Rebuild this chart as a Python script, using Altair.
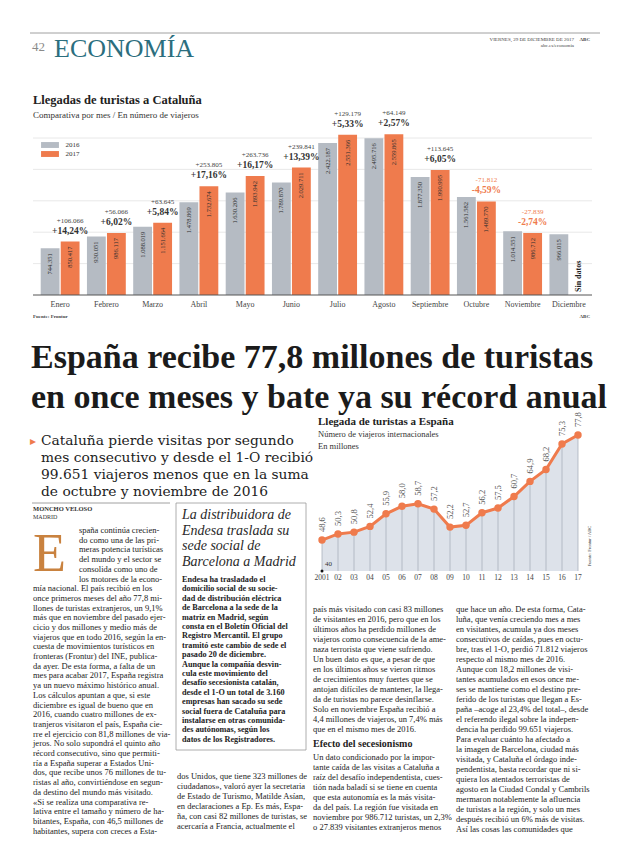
import altair as alt
import pandas as pd

# ---------------- data (read from the page) ----------------
MONTHS = ["Enero", "Febrero", "Marzo", "Abril", "Mayo", "Junio", "Julio",
          "Agosto", "Septiembre", "Octubre", "Noviembre", "Diciembre"]
V2016 = [744351, 930051, 1088019, 1478869, 1630206, 1789870, 2422187,
         2495716, 1877350, 1561582, 1014551, 966015]
V2017 = [850417, 986117, 1151664, 1732674, 1893942, 2029711, 2551366,
         2559865, 1990995, 1489770, 986712, None]
DIFF = ["+106.066", "+56.066", "+63.645", "+253.805", "+263.736", "+239.841",
        "+129.179", "+64.149", "+113.645", "-71.812", "-27.839"]
PCT = ["+14,24%", "+6,02%", "+5,84%", "+17,16%", "+16,17%", "+13,39%",
       "+5,33%", "+2,57%", "+6,05%", "-4,59%", "-2,74%"]
GRID = [500000, 1000000, 1500000, 2000000, 2500000]

YEARS = [2001, 2002, 2003, 2004, 2005, 2006, 2007, 2008, 2009, 2010, 2011,
         2012, 2013, 2014, 2015, 2016, 2017]
YEAR_LABELS = ["2001", "02", "03", "04", "05", "06", "07", "08", "09", "10",
               "11", "12", "13", "14", "15", "16", "17"]
ARRIVALS = [48.6, 50.3, 50.8, 52.4, 55.9, 58.0, 58.7, 57.2, 52.2, 52.7, 56.2,
            57.5, 60.7, 64.9, 68.2, 75.3, 77.8]

# ---------------- page texts ----------------
HEADLINE = ["España recibe 77,8 millones de turistas",
            "en once meses y bate ya su récord anual"]
SUBHEAD = ["Cataluña pierde visitas por segundo",
           "mes consecutivo y desde el 1-O recibió",
           "99.651 viajeros menos que en la suma",
           "de octubre y noviembre de 2016"]
COL1_TOP = ["spaña continúa crecien-", "do como una de las pri-",
            "meras potencia turísticas", "del mundo y el sector se",
            "consolida como uno de", "los motores de la econo-"]
COL1 = ["mía nacional. El país recibió en los",
        "once primeros meses del año 77,8 mi-",
        "llones de turistas extranjeros, un 9,1%",
        "más que en noviembre del pasado ejer-",
        "cicio y dos millones y medio más de",
        "viajeros que en todo 2016, según la en-",
        "cuesta de movimientos turísticos en",
        "fronteras (Frontur) del INE, publica-",
        "da ayer. De esta forma, a falta de un",
        "mes para acabar 2017, España registra",
        "ya un nuevo máximo histórico anual.",
        "\u00a0\u00a0\u00a0Los cálculos apuntan a que, si este",
        "diciembre es igual de bueno que en",
        "2016, cuando cuatro millones de ex-",
        "tranjeros visitaron el país, España cie-",
        "rre el ejercicio con 81,8 millones de via-",
        "jeros. No solo supondrá el quinto año",
        "récord consecutivo, sino que permiti-",
        "ría a España superar a Estados Uni-",
        "dos, que recibe unos 76 millones de tu-",
        "ristas al año, convirtiéndose en segun-",
        "da destino del mundo más visitado.",
        "\u00a0\u00a0\u00a0«Si se realiza una comparativa re-",
        "lativa entre el tamaño y número de ha-",
        "bitantes, España, con 46,5 millones de",
        "habitantes, supera con creces a Esta-"]
SIDE_TITLE = ["La distribuidora de", "Endesa traslada su",
              "sede social de", "Barcelona a Madrid"]
SIDE_BODY = ["Endesa ha trasladado el", "domicilio social de su socie-",
             "dad de distribución eléctrica", "de Barcelona a la sede de la",
             "matriz en Madrid, según", "consta en el Boletín Oficial del",
             "Registro Mercantil. El grupo", "tramitó este cambio de sede el",
             "pasado 20 de diciembre.", "Aunque la compañía desvin-",
             "cula este movimiento del", "desafío secesionista catalán,",
             "desde el 1-O un total de 3.160", "empresas han sacado su sede",
             "social fuera de Cataluña para", "instalarse en otras comunida-",
             "des autónomas, según los", "datos de los Registradores."]
COL2 = ["dos Unidos, que tiene 323 millones de",
        "ciudadanos», valoró ayer la secretaria",
        "de Estado de Turismo, Matilde Asían,",
        "en declaraciones a Ep. Es más, Espa-",
        "ña, con casi 82 millones de turistas, se",
        "acercaría a Francia, actualmente el"]
COL3A = ["país más visitado con casi 83 millones",
         "de visitantes en 2016, pero que en los",
         "últimos años ha perdido millones de",
         "viajeros como consecuencia de la ame-",
         "naza terrorista que viene sufriendo.",
         "\u00a0\u00a0\u00a0Un buen dato es que, a pesar de que",
         "en los últimos años se vieron ritmos",
         "de crecimientos muy fuertes que se",
         "antojan difíciles de mantener, la llega-",
         "da de turistas no parece desinflarse.",
         "Solo en noviembre España recibió a",
         "4,4 millones de viajeros, un 7,4% más",
         "que en el mismo mes de 2016."]
COL3_HEAD = ["Efecto del secesionismo"]
COL3B = ["Un dato condicionado por la impor-",
         "tante caída de las visitas a Cataluña a",
         "raíz del desafío independentista, cues-",
         "tión nada baladí si se tiene en cuenta",
         "que esta autonomía es la más visita-",
         "da del país. La región fue visitada en",
         "noviembre por 986.712 turistas, un 2,3%",
         "o 27.839 visitantes extranjeros menos"]
COL4 = ["que hace un año. De esta forma, Cata-",
        "luña, que venía creciendo mes a mes",
        "en visitantes, acumula ya dos meses",
        "consecutivos de caídas, pues en octu-",
        "bre, tras el 1-O, perdió 71.812 viajeros",
        "respecto al mismo mes de 2016.",
        "\u00a0\u00a0\u00a0Aunque con 18,2 millones de visi-",
        "tantes acumulados en esos once me-",
        "ses se mantiene como el destino pre-",
        "ferido de los turistas que llegan a Es-",
        "paña –acoge al 23,4% del total–, desde",
        "el referendo ilegal sobre la indepen-",
        "dencia ha perdido 99.651 viajeros.",
        "\u00a0\u00a0\u00a0Para evaluar cuánto ha afectado a",
        "la imagen de Barcelona, ciudad más",
        "visitada, y Cataluña el órdago inde-",
        "pendentista, basta recordar que ni si-",
        "quiera los atentados terroristas de",
        "agosto en la Ciudad Condal y Cambrils",
        "mermaron notablemente la afluencia",
        "de turistas a la región, y solo un mes",
        "después recibió un 6% más de visitas.",
        "\u00a0\u00a0\u00a0Así las cosas las comunidades que"]

# ---------------- style ----------------
SERIF = "Liberation Serif"
SERIF_WIDE = "DejaVu Serif"
INK = "#222222"
GRAY_BAR = "#b5bbc3"
ORANGE = "#ef7b4d"
TEAL = "#2b6e7e"
AREA = "#dde2ea"
W, H = 604, 830


def px(v):
    """page pixel -> canvas pixel (page has an 8px margin)"""
    return v - 8


def block(lines, x, y, size, lh=None, weight="normal", style="normal",
          color=INK, align="left", angle=0, font=SERIF, baseline="alphabetic"):
    df = pd.DataFrame({"t": ["\n".join(lines)]})
    return alt.Chart(df).mark_text(
        align=align, baseline=baseline, font=font, fontSize=size,
        fontWeight=weight, fontStyle=style, color=color, lineBreak="\n",
        lineHeight=lh if lh else size * 1.2, angle=angle
    ).encode(x=alt.value(px(x)), y=alt.value(px(y)), text="t:N")


one = pd.DataFrame({"k": [0]})


def hrule(x1, x2, y, color="#9a9a9a", w=1.0):
    return alt.Chart(one).mark_rule(color=color, strokeWidth=w).encode(
        x=alt.value(px(x1)), x2=alt.value(px(x2)), y=alt.value(px(y)))


# ---------------- header ----------------
header = [
    hrule(30, 600, 33, "#a0a0a0", 1),
    block(["42"], 32, 51, 13, color="#8a8a8a"),
    block(["ECONOMÍA"], 54, 57, 26, color=TEAL),
    block(["VIERNES, 29 DE DICIEMBRE DE 2017"], 574, 41, 5, align="right", color="#444"),
    block(["ABC"], 590, 41, 5, align="right", weight="bold", color="#444"),
    block(["abc.es/economia"], 574, 47, 5, align="right", color="#444"),
]

# ---------------- bar chart (Cataluña) ----------------
rows = []
for m, a, b in zip(MONTHS, V2016, V2017):
    rows.append({"month": m, "year": "2016", "value": a})
    if b is not None:
        rows.append({"month": m, "year": "2017", "value": b})
bars_df = pd.DataFrame(rows)
bars_df["label"] = [f"{int(v):,}".replace(",", ".") for v in bars_df["value"]]

ann_df = pd.DataFrame({"month": MONTHS[:11], "year": "2017",
                       "value": V2017[:11], "diff": DIFF, "pct": PCT})
ann_df["neg"] = ann_df["diff"].str.startswith("-")

xs = alt.Scale(domain=MONTHS, range=[px(37), px(592)],
               paddingInner=0.16, paddingOuter=0.08)
xos = alt.Scale(domain=["2016", "2017"], paddingInner=0.06)
ys = alt.Scale(domain=[0, 2500000], range=[px(295), px(138)], nice=False)

BX = alt.X("month:N", scale=xs, axis=None, sort=MONTHS)
BXO = alt.XOffset("year:N", scale=xos)
BY = alt.Y("value:Q", scale=ys, axis=None)

grid = alt.Chart(pd.DataFrame({"value": GRID})).mark_rule(
    color="#e2e2e2", strokeWidth=0.8).encode(
    y=BY, x=alt.value(px(33)), x2=alt.value(px(592)))
base_line = alt.Chart(pd.DataFrame({"value": [0]})).mark_rule(
    color="#555555", strokeWidth=1).encode(
    y=BY, x=alt.value(px(33)), x2=alt.value(px(592)))
bars = alt.Chart(bars_df).mark_bar().encode(
    x=BX, xOffset=BXO, y=BY,
    color=alt.Color("year:N",
                    scale=alt.Scale(domain=["2016", "2017"], range=[GRAY_BAR, ORANGE]),
                    legend=alt.Legend(orient="none", legendX=px(45.5), legendY=px(140.5),
                                      title=None, symbolType="M-2,-0.66H2V0.66H-2Z",
                                      symbolSize=80, symbolStrokeWidth=0,
                                      labelFont=SERIF, labelFontSize=7,
                                      labelColor="#333", labelOffset=11,
                                      rowPadding=1, padding=0)))
inbar = alt.Chart(bars_df).mark_text(
    angle=270, align="right", baseline="middle", dx=-5, fontSize=6.5,
    font=SERIF, color="#2d2d2d").encode(x=BX, xOffset=BXO, y=BY, text="label:N")
diff_t = alt.Chart(ann_df).mark_text(
    fontSize=7, font=SERIF, dy=-21, baseline="middle").encode(
    x=BX, xOffset=BXO, y=BY, text="diff:N",
    color=alt.condition("datum.neg", alt.value(ORANGE), alt.value("#444444")))
pct_t = alt.Chart(ann_df).mark_text(
    fontSize=9.5, font=SERIF, fontWeight="bold", dy=-11, baseline="middle").encode(
    x=BX, xOffset=BXO, y=BY, text="pct:N",
    color=alt.condition("datum.neg", alt.value(ORANGE), alt.value("#333333")))
sin = alt.Chart(pd.DataFrame({"month": ["Diciembre"], "year": ["2017"],
                              "value": [0], "t": ["Sin datos"]})).mark_text(
    angle=270, align="left", baseline="middle", dx=3, fontSize=8,
    font=SERIF, fontWeight="bold", color="#222").encode(
    x=BX, xOffset=BXO, y=BY, text="t:N")
month_lab = alt.Chart(pd.DataFrame({"month": MONTHS})).mark_text(
    fontSize=8, font=SERIF, color="#444", baseline="middle").encode(
    x=BX, y=alt.value(px(305)), text="month:N")

bar_chart = alt.layer(grid, bars, base_line, inbar, diff_t, pct_t, sin, month_lab)

bar_texts = [
    block(["Llegadas de turistas a Cataluña"], 33, 104, 12.5, weight="bold"),
    block(["Comparativa por mes / En número de viajeros"], 33, 118, 9, color="#333"),
    block(["Fuente: Frontur"], 33, 318, 5, weight="bold", color="#444"),
    block(["ABC"], 590, 318, 5, weight="bold", align="right", color="#444"),
]

# ---------------- headline + subhead ----------------
head_texts = [
    block(HEADLINE, 31, 368, 34, lh=40, weight="bold", color="#1b1b1b"),
    block(["▸"], 30, 445, 12, color=ORANGE, font=SERIF_WIDE),
    block(SUBHEAD, 41, 445, 13.8, lh=17, color="#222", font=SERIF_WIDE),
]

# ---------------- line chart (España) ----------------
line_df = pd.DataFrame({"year": YEARS, "v": ARRIVALS, "ylab": YEAR_LABELS})
line_df["lab"] = [f"{v:.1f}".replace(".", ",") for v in ARRIVALS]
LX = alt.X("year:Q", scale=alt.Scale(domain=[2001, 2017], range=[px(322), px(578)],
                                     nice=False, zero=False), axis=None)
LY = alt.Y("v:Q", scale=alt.Scale(domain=[40, 77.8], range=[px(571), px(435)],
                                  nice=False, zero=False), axis=None)
lbase = alt.Chart(line_df).encode(x=LX, y=LY)
l_area = lbase.mark_area(color=AREA).encode(y2=alt.datum(40))
l_rules = lbase.mark_rule(color="#a9b1bc", strokeWidth=0.8).encode(y2=alt.datum(40))
l_line = lbase.mark_line(color=ORANGE, strokeWidth=3)
l_pts = lbase.mark_circle(color=ORANGE, size=55, opacity=1)
l_lab = lbase.mark_text(angle=270, align="left", baseline="middle", dx=8,
                        fontSize=8.5, font=SERIF, color="#555").encode(text="lab:N")
l_years = lbase.mark_text(baseline="middle", fontSize=7.5, font=SERIF,
                          color="#444").encode(y=alt.value(px(578)), text="ylab:N")
origin = pd.DataFrame({"year": [2001], "v": [40], "t": ["40"]})
l_dot = alt.Chart(origin).mark_circle(color="#111", size=9, opacity=1).encode(x=LX, y=LY)
l_40 = alt.Chart(origin).mark_text(align="left", dx=3, dy=-7, fontSize=7,
                                   font=SERIF, color="#333").encode(x=LX, y=LY, text="t:N")
line_chart = alt.layer(l_area, l_rules, l_line, l_pts, l_lab, l_years, l_dot, l_40)

line_texts = [
    block(["Llegada de turistas a España"], 318, 425, 11, weight="bold"),
    block(["Número de viajeros internacionales", "En millones"], 318, 437, 8.5,
          lh=11.5, color="#333"),
    block(["Dato a noviembre"], 576, 505, 8, angle=270, align="center", color="#333"),
    block(["Fuente: Frontur / ABC"], 591, 546, 4.5, angle=270, align="center", color="#444"),
]

# ---------------- body columns ----------------
P1 = 9.7     # column 1 leading
P3 = 10.0    # columns 3 and 4 leading
body = [
    hrule(32, 170, 503, "#888", 0.8),
    block(["MONCHO VELOSO"], 33, 510.5, 6.5, weight="bold", color="#333"),
    block(["MADRID"], 33, 519, 6, color="#333"),
    block(["E"], 33, 571, 54, color="#c9823f"),
    block(COL1_TOP, 79, 533, 8.5, lh=P1),
    block(COL1, 33, 533 + 6 * P1, 8.5, lh=P1),
    alt.Chart(one).mark_rect(fill="white", stroke="#9a9a9a", strokeWidth=0.8).encode(
        x=alt.value(px(176)), x2=alt.value(px(306)),
        y=alt.value(px(503)), y2=alt.value(px(750))),
    block(SIDE_TITLE, 182, 519, 14, lh=15.5, style="italic", color="#2a2a2a"),
    block(SIDE_BODY, 182, 582, 8.2, lh=9.4, weight="bold", color="#222"),
    block(COL2, 177, 779, 8.5, lh=10),
    block(COL3A, 313, 612, 8.5, lh=P3),
    block(COL3_HEAD, 313, 612 + 12 * P3 + 15, 10, weight="bold"),
    block(COL3B, 313, 612 + 12 * P3 + 28, 8.5, lh=P3),
    block(COL4, 456, 612, 8.5, lh=P3),
]

layers = header + bar_texts + [bar_chart] + head_texts + line_texts + [line_chart] + body

chart = alt.layer(*layers).resolve_scale(
    x="independent", y="independent"
).properties(
    width=W, height=H, padding=0,
    autosize=alt.AutoSizeParams(type="none")
).configure_view(stroke=None)

chart.save("out.html", embed_options={"renderer": "svg", "actions": False})
